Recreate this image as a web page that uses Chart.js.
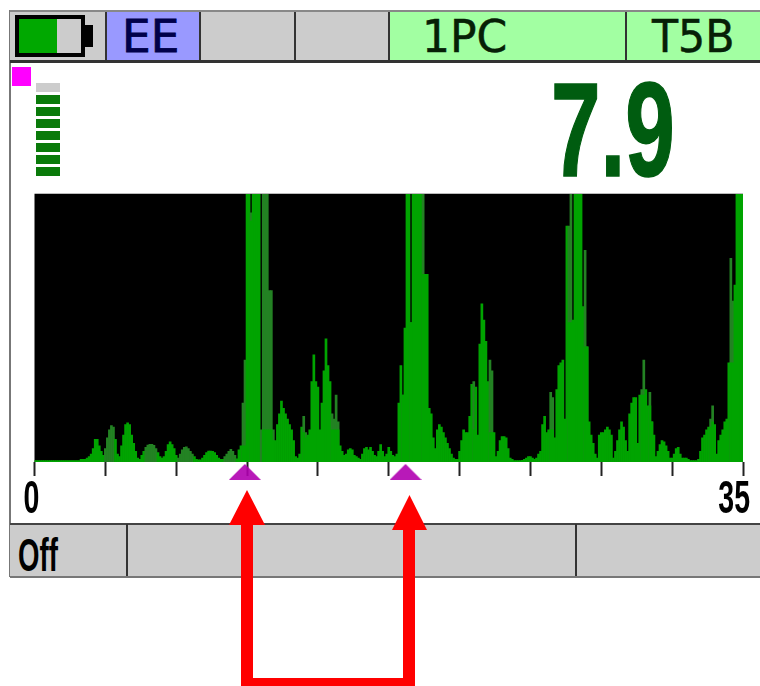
<!DOCTYPE html>
<html><head><meta charset="utf-8">
<script src="https://cdn.jsdelivr.net/npm/chart.js@4"></script>
<style>
html,body{margin:0;padding:0;background:#fff;width:760px;height:686px;overflow:hidden}
.b{position:absolute;box-sizing:border-box}
.t{position:absolute;white-space:nowrap;line-height:1}
#c{position:absolute;left:0;top:0;z-index:2}
svg{position:absolute;left:0;top:0;z-index:3}
</style></head><body>
<div class="b" style="left:9px;top:10px;width:751px;height:567px;border-left:2px solid #777"></div>
<div class="b" style="left:10px;top:10px;width:750px;height:53px;background:#ccc;border-top:2px solid #888;border-bottom:3px solid #333"></div>
<div class="b" style="left:105px;top:12px;width:95px;height:48px;background:#9999ff"></div>
<div class="b" style="left:389px;top:12px;width:371px;height:48px;background:#a2ffa2"></div>
<div class="b" style="left:105px;top:12px;width:2px;height:48px;background:#333"></div>
<div class="b" style="left:199px;top:12px;width:2px;height:48px;background:#333"></div>
<div class="b" style="left:294px;top:12px;width:2px;height:48px;background:#333"></div>
<div class="b" style="left:388px;top:12px;width:2px;height:48px;background:#333"></div>
<div class="b" style="left:625px;top:12px;width:2px;height:48px;background:#333"></div>
<div class="b" style="left:15px;top:15px;width:70px;height:42px;border:4px solid #000;background:linear-gradient(90deg,#00a800 0 38px,#ccc 38px)"></div>
<div class="b" style="left:85px;top:25px;width:8px;height:22px;background:#000"></div>
<div class="t" style="left:122px;top:11px;font:44px 'DejaVu Sans';color:#00004a;-webkit-text-stroke:.8px #00004a;transform-origin:0 0;transform:scaleX(1.03)">EE</div>
<div class="t" style="left:422px;top:11px;font:44px 'DejaVu Sans';color:#062006;-webkit-text-stroke:.5px #062006">1PC</div>
<div class="t" style="left:652px;top:11px;font:44px 'DejaVu Sans';color:#062006;-webkit-text-stroke:.5px #062006;transform-origin:0 0;transform:scaleX(.97)">T5B</div>
<div class="b" style="left:12px;top:67px;width:19px;height:19px;background:#ff00ff"></div>
<div class="b" style="left:36px;top:83px;width:24px;height:9px;background:#ccc"></div>
<div class="b" style="left:36px;top:95px;width:24px;height:9px;background:#0a7a0a"></div>
<div class="b" style="left:36px;top:107px;width:24px;height:9px;background:#0a7a0a"></div>
<div class="b" style="left:36px;top:119px;width:24px;height:9px;background:#0a7a0a"></div>
<div class="b" style="left:36px;top:131px;width:24px;height:9px;background:#0a7a0a"></div>
<div class="b" style="left:36px;top:143px;width:24px;height:9px;background:#0a7a0a"></div>
<div class="b" style="left:36px;top:155px;width:24px;height:9px;background:#0a7a0a"></div>
<div class="b" style="left:36px;top:167px;width:24px;height:9px;background:#0a7a0a"></div>
<div class="t" style="left:551px;top:54px;font:bold 133px 'Liberation Sans';color:#005c10;-webkit-text-stroke:1.5px #005c10;transform-origin:0 0;transform:scaleX(.67)">7.9</div>
<div class="b" style="left:10px;top:523px;width:750px;height:55px;background:#ccc;border-top:2px solid #444;border-bottom:2px solid #777"></div>
<div class="b" style="left:126px;top:524px;width:2px;height:52px;background:#333"></div>
<div class="b" style="left:575px;top:524px;width:2px;height:52px;background:#333"></div>
<div class="t" style="left:18px;top:528px;font:bold 46px 'Liberation Sans';color:#000;transform-origin:0 0;transform:scaleX(.6)">Off</div>
<canvas id="c" width="760" height="686"></canvas>
<svg width="760" height="686" viewBox="0 0 760 686">
<polygon fill="#ff0000" points="247,490 265,525 253,525 253,678 403,678 403,530 392,530 409.5,495 427,530 415,530 415,686 241,686 241,525 229,525"/>
</svg>
<script>
const sweepMaxUs = 35;
const sampleStepUs = 0.1;
const tickLabels = ['0', '35'];
const cursorPositionsUs = [10.39, 18.33];
const amplitude = [
 .5,.5,.5,.5,.5,.5,.5,.5,.5,.5,
 .5,.5,.5,.5,.5,.5,.5,.5,.5,.5,
 .5,.5,.5,1,1,1,1.5,2,3,5,
 8.5,8.5,6,4,2.5,5,9,12,13.6,13,
 8.5,3,2,6,10,14,14.6,14,10,7,
 4,1.5,1,2.5,4,5.5,6.3,6.6,6.6,6.2,
 5,3.5,2,1.5,2,4,6.5,7.5,6.5,5,
 2.5,1.5,3,4.5,5.5,5.7,5,4,3,2,
 1,.8,.8,1.5,2.5,3.5,4.1,4.1,4,3.5,
 2.5,1.5,1,1,2,3,4,4.7,4,2.5,
 1.2,4.5,6,22,38,100,100,93,100,100,
 100,100,12,100,100,100,64,64,12,8,
 14,18,22.7,20,18,16,14,12,8,2,
 1.5,3,13,17,11,10,12,30,40,30,
 28,12,22,34,46,36,30,18,16,25,
 15,6,4,2.5,3,4.5,5,4.5,2.5,2,
 1.5,1,3,5,5.5,4.5,5.5,4,2.5,2,
 4,6.5,4,2,3,5.5,4,2.5,2,3,
 22,36,25,50,100,100,52,100,100,100,
 100,100,100,70,70,20,18,9,5,12,
 14,13,11,9,7,5,3,1.5,1,1,
 4,8,12,11,11,17,29,30,28,10,
 44,59,53,45,30,38,34,11,2,4,
 8,9.5,9.5,9,5,1.5,1,.5,.5,.5,
 .5,.6,1,1.5,2,2,1.5,1,1.5,3,
 4,14,17,11,12,26,24,9,27,36,
 37,38,16,88,88,100,53,100,100,100,
 100,58,79,43,15,10,7,3,1.5,10,
 11,11,12,13,12,10,1.5,4,8,12,
 15,13,8,4,18,22,24,24,7,25,
 27,38,27,21,26,15,10,2,4,6.5,
 8,7.5,6,4,1.5,1.5,3,5,5.5,3,
 1.5,1.5,1.5,1,.5,.5,.5,.5,1,4,
 9,10,12,13,16,21,14,3,8,10,
 12,15,16,37,76,60,66,100,100,100,
 100
];
const dimSamples = [35,36,37,38,39,55,56,57,58,59,60,71,72,73,74,75,76,77,78,94,95,96,97,98,99,
 103,104,107,112,113,114,115,116,117,118,133,134,147,148,149,150,182,186,192,217,225,226,
 255,256,264,265,272,273,300,301,304,305,334,335,344,345];
const brightFloorSamples = [103,104,107,113,114,115,116,117,118,133,134,147,148,149,150,182,186,192,217,225,226,255,256,264,265,272,273,300,301,304,305,334,335,344,345];
const brightFloorLevels = [6,6,90,12,12,12,12,12,8,11,9,12,12,12,12,25,52,70,12,11,11,12,12,52,52,43,43,25,25,21,15,13,15,37,37];

const barColors = amplitude.map((_, i) => dimSamples.includes(i) ? '#238223' : '#00a400');
const triangle = document.createElement('canvas');
triangle.width = 32; triangle.height = 16;
const g = triangle.getContext('2d');
g.fillStyle = 'rgba(176,0,176,0.9)';
g.beginPath(); g.moveTo(16, 0); g.lineTo(32, 16); g.lineTo(0, 16); g.closePath(); g.fill();

const plotBackground = {
  id: 'plotBackground',
  beforeDraw(chart) {
    const a = chart.chartArea, c = chart.ctx;
    c.save();
    c.fillStyle = '#000';
    c.fillRect(a.left, a.top, a.right - a.left, a.bottom - a.top);
    c.fillStyle = '#bbb';
    c.fillRect(a.left, a.top - 1, a.right - a.left, 1);
    c.restore();
  }
};
const tickText = {
  id: 'tickText',
  afterDraw(chart) {
    const x = chart.scales.x, c = chart.ctx;
    c.save();
    c.font = "bold 46px 'Liberation Sans'";
    c.fillStyle = '#000';
    c.textBaseline = 'alphabetic';
    [[tickLabels[0], 0, 'left', -11], [tickLabels[1], sweepMaxUs, 'right', 7]].forEach(([s, v, al, dx]) => {
      c.save();
      c.translate(x.getPixelForValue(v) + dx, 513);
      c.scale(0.62, 1);
      c.textAlign = al;
      c.fillText(s, 0, 0);
      c.restore();
    });
    c.restore();
  }
};
new Chart(document.getElementById('c'), {
  data: { datasets: [
    { type: 'bar', data: amplitude.map((y, i) => ({ x: i * sampleStepUs, y })),
      backgroundColor: barColors, borderWidth: 0, barPercentage: 1, categoryPercentage: 1, grouped: false, order: 3 },
    { type: 'bar', data: brightFloorSamples.map((s, i) => ({ x: s * sampleStepUs, y: brightFloorLevels[i] })),
      backgroundColor: '#00a400', borderWidth: 0, barPercentage: 1, categoryPercentage: 1, grouped: false, order: 2 },
    { type: 'scatter', data: cursorPositionsUs.map(x => ({ x, y: -3.7 })), pointStyle: triangle, pointRadius: 16, clip: false, order: 1 }
  ] },
  options: {
    responsive: false, animation: false,
    layout: { padding: { left: 34.5, right: 17, top: 194, bottom: 210 } },
    plugins: { legend: { display: false }, tooltip: { enabled: false } },
    scales: {
      x: { type: 'linear', min: 0, max: sweepMaxUs, offset: false,
        ticks: { display: false, stepSize: 3.5, autoSkip: false },
        grid: { offset: false, drawOnChartArea: false, drawTicks: true, tickLength: 14, tickWidth: 2, tickColor: '#222' },
        border: { display: false } },
      y: { display: false, min: 0, max: 100 }
    }
  },
  plugins: [plotBackground, tickText]
});
</script>
</body></html>
